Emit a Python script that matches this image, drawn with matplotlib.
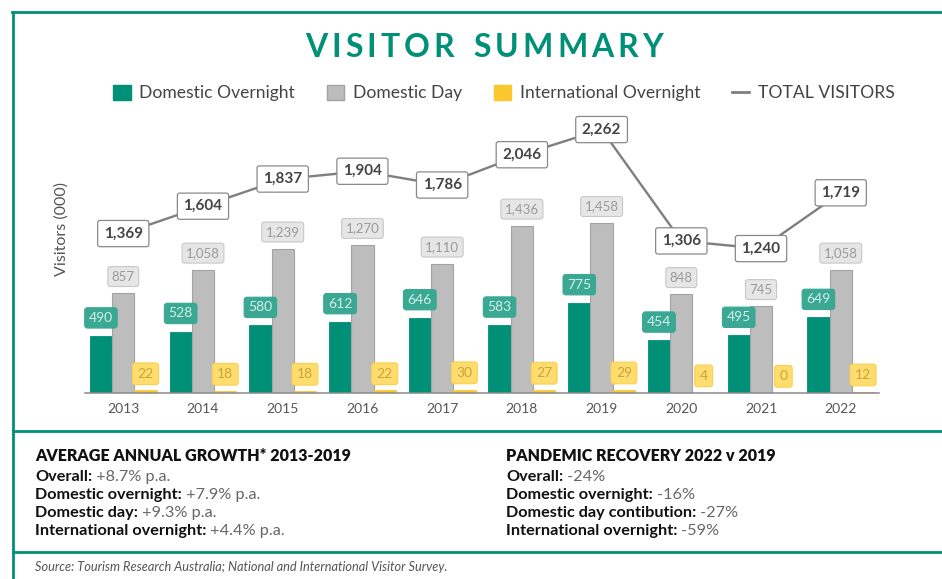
import numpy as np
import matplotlib
matplotlib.use('Agg')
from matplotlib import pyplot as plt
from matplotlib.patches import Patch
from matplotlib.lines import Line2D

plt.rcParams['font.family'] = ['Lato', 'DejaVu Sans']

years = ['2013', '2014', '2015', '2016', '2017', '2018', '2019', '2020', '2021', '2022']
dom_overnight = [490, 528, 580, 612, 646, 583, 775, 454, 495, 649]
dom_day = [857, 1058, 1239, 1270, 1110, 1436, 1458, 848, 745, 1058]
intl_overnight = [22, 18, 18, 22, 30, 27, 29, 4, 0, 12]
total = [1369, 1604, 1837, 1904, 1786, 2046, 2262, 1306, 1240, 1719]

growth_title = 'AVERAGE ANNUAL GROWTH* 2013-2019'
growth_rows = [('Overall:', ' +8.7% p.a.'),
               ('Domestic overnight:', ' +7.9% p.a.'),
               ('Domestic day:', ' +9.3% p.a.'),
               ('International overnight:', ' +4.4% p.a.')]
recovery_title = 'PANDEMIC RECOVERY 2022 v 2019'
recovery_rows = [('Overall:', ' -24%'),
                 ('Domestic overnight:', ' -16%'),
                 ('Domestic day contibution:', ' -27%'),
                 ('International overnight:', ' -59%')]
source = 'Source: Tourism Research Australia; National and International Visitor Survey.'

TEAL = '#009077'
GREY = '#bdbdbd'
GOLD = '#fcc62d'

W, H = 942, 579


def px(x, y):
    return x / W, 1 - y / H


fig = plt.figure(figsize=(W / 100, H / 100), dpi=100)
ax = fig.add_axes([85 / W, (H - 393) / H, 794 / W, 283 / H])

x = np.arange(len(years))
bw = 0.28

ax.bar(x - bw, dom_overnight, bw, color=TEAL, edgecolor=TEAL, linewidth=0.6, zorder=2)
ax.bar(x, dom_day, bw, color=GREY, edgecolor='#a3a3a3', linewidth=0.8, zorder=2)
ax.bar(x + bw, intl_overnight, bw, color=GOLD, edgecolor=GOLD, linewidth=0.6, zorder=2)

ax.plot(x, total, color='#7f7f7f', lw=1.7, zorder=3, solid_capstyle='round')

for i in range(len(years)):
    ax.annotate(str(dom_overnight[i]), (x[i] - bw, dom_overnight[i]), xytext=(0, 13),
                textcoords='offset points', ha='center', va='center', fontsize=10,
                color='#d4f0e9', zorder=5,
                bbox=dict(boxstyle='round,pad=0.3,rounding_size=0.2', fc='#3aa893', ec='#3aa893', lw=0.8))
    ax.annotate(f'{dom_day[i]:,}', (x[i], dom_day[i]), xytext=(0, 12),
                textcoords='offset points', ha='center', va='center', fontsize=9.5,
                color='#9a9a9a', zorder=5,
                bbox=dict(boxstyle='round,pad=0.3,rounding_size=0.2', fc='#e6e6e6', ec='#c8c8c8', lw=0.8))
    ax.annotate(str(intl_overnight[i]), (x[i] + bw, intl_overnight[i]), xytext=(0, 12),
                textcoords='offset points', ha='center', va='center', fontsize=10,
                color='#c9a43a', zorder=5,
                bbox=dict(boxstyle='round,pad=0.35,rounding_size=0.2', fc='#ffdc6e', ec='#fbd04a', lw=0.8))
    ax.annotate(f'{total[i]:,}', (x[i], total[i]), ha='center', va='center', fontsize=11,
                fontweight='bold', color='#444444', zorder=6,
                bbox=dict(boxstyle='round,pad=0.4,rounding_size=0.15', fc='white', ec='#8a8a8a', lw=0.9))

ax.set_xlim(-0.48, 9.48)
ax.set_ylim(0, 2430)
ax.set_xticks(x)
ax.set_xticklabels(years, fontsize=10, color='#555555')
ax.tick_params(axis='x', length=0, pad=7)
ax.set_yticks([])
for s in ['top', 'right', 'left']:
    ax.spines[s].set_visible(False)
ax.spines['bottom'].set_color('#8a8a8a')
ax.spines['bottom'].set_linewidth(1.1)
ax.set_ylabel('Visitors (000)', fontsize=11.5, color='#555555')
ax.yaxis.set_label_coords(-0.021, 0.58)

# title with letter spacing, drawn char by char
renderer = fig.canvas.get_renderer()
title = 'VISITOR SUMMARY'
track = 4.0
widths = []
for ch in title:
    t = fig.text(0, 0, ch if ch != ' ' else 'I', fontsize=23, fontweight='bold')
    w = t.get_window_extent(renderer).width
    widths.append(w if ch != ' ' else w * 1.2)
    t.remove()
total_w = sum(widths) + track * (len(title) - 1)
cx = 484 - total_w / 2
for ch, w in zip(title, widths):
    if ch != ' ':
        fig.text(*px(cx, 57), ch, fontsize=23, fontweight='bold', color=TEAL,
                 ha='left', va='baseline')
    cx += w + track

handles = [Patch(fc=TEAL, ec=TEAL), Patch(fc=GREY, ec='#a3a3a3'), Patch(fc=GOLD, ec=GOLD),
           Line2D([], [], color='#7f7f7f', lw=2)]
labels = ['Domestic Overnight', 'Domestic Day', 'International Overnight', 'TOTAL VISITORS']
leg = fig.legend(handles, labels, loc='center', bbox_to_anchor=px(504, 93), ncol=4,
                 frameon=False, fontsize=12.6, handlelength=1.0, handleheight=1.0,
                 handletextpad=0.5, columnspacing=1.8)
for t in leg.get_texts():
    t.set_color('#444444')

# frame lines
for xs, ys in [((12, W), (12, 12)), ((13, 13), (12, H)), ((13, W), (431, 431)), ((13, W), (552, 552))]:
    fig.add_artist(Line2D([xs[0] / W, xs[1] / W], [1 - ys[0] / H, 1 - ys[1] / H],
                          transform=fig.transFigure, color=TEAL, lw=2))


def block(x0, title, rows):
    fig.text(*px(x0, 461), title, fontsize=11.5, fontweight='heavy', color='#111111',
             ha='left', va='baseline')
    for k, (b, v) in enumerate(rows):
        t = fig.text(*px(x0, 481 + k * 18), b, fontsize=11.7, fontweight='bold',
                     color='#111111', ha='left', va='baseline')
        ax.annotate(v, xy=(1, 0), xycoords=t, fontsize=11.7,
                    color='#666666', ha='left', va='bottom', annotation_clip=False)


block(35, growth_title, growth_rows)
block(506, recovery_title, recovery_rows)

fig.text(*px(35, 571), source, fontsize=9.2, style='italic',
         color='#555555', ha='left', va='baseline')

fig.savefig('out.png', dpi=100, facecolor='white')
